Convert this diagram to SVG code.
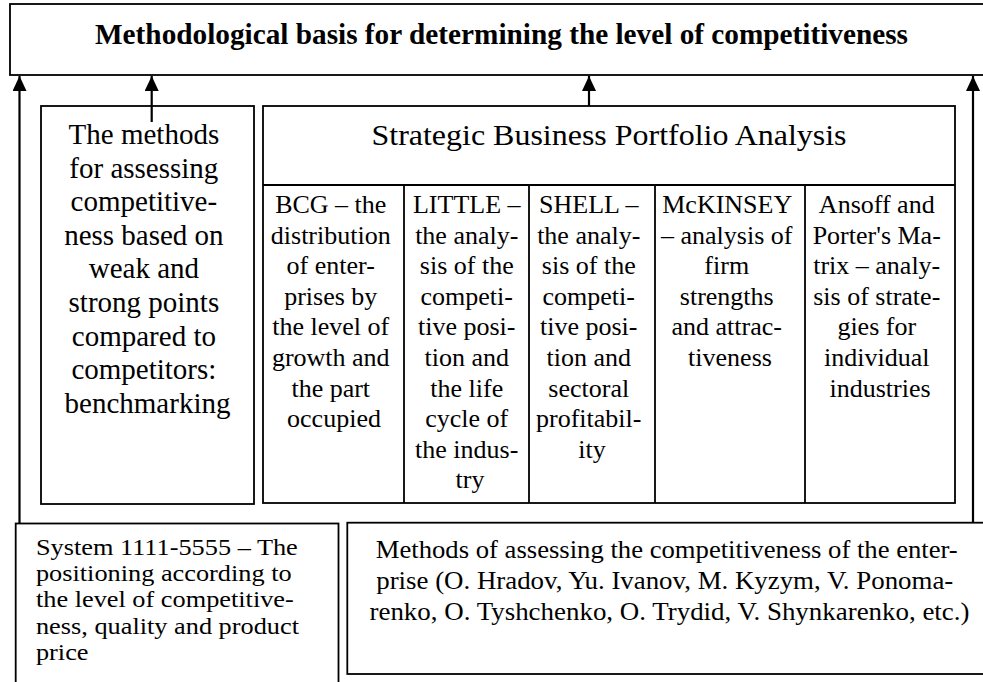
<svg xmlns="http://www.w3.org/2000/svg" width="983" height="682" viewBox="0 0 983 682">
<style>
.box{fill:#fff;stroke:#000;stroke-width:1.8}
.ln{fill:none;stroke:#000;stroke-width:1.8}
.con{fill:none;stroke:#000;stroke-width:2.2}
.t{font-family:"Liberation Serif","Times New Roman",serif;fill:#000}
.col{font-size:26px;text-anchor:middle}
</style>
<defs>
<marker id="ah" markerUnits="userSpaceOnUse" viewBox="0 0 15 14" refX="15" refY="7" markerWidth="15" markerHeight="14" orient="auto">
<path d="M0,0 L15,7 L0,14 Z" fill="#000"/>
</marker>
</defs>
<rect width="983" height="682" fill="#fff"/>

<g id="top">
<rect class="box" x="10" y="4" width="985" height="71"/>
<text class="t" x="95" y="44.3" font-size="29" font-weight="bold" textLength="813" lengthAdjust="spacingAndGlyphs">Methodological basis for determining the level of competitiveness</text>
</g>

<g id="benchmarking">
<rect class="box" x="41" y="106" width="213" height="398"/>
<text class="t" font-size="29" text-anchor="middle">
<tspan x="147.5" y="144">The methods</tspan>
<tspan x="147.5" y="177.6">for assessing</tspan>
<tspan x="147.5" y="211.2">competitive-</tspan>
<tspan x="147.5" y="244.8">ness based on</tspan>
<tspan x="147.5" y="278.4">weak and</tspan>
<tspan x="147.5" y="312">strong points</tspan>
<tspan x="147.5" y="345.6">compared to</tspan>
<tspan x="147.5" y="379.2">competitors:</tspan>
<tspan x="147.5" y="412.8">benchmarking</tspan>
</text>
</g>

<g id="portfolio">
<rect class="box" x="263" y="106" width="692" height="397"/>
<line class="ln" x1="263" y1="185" x2="955" y2="185"/>
<line class="ln" x1="404" y1="185" x2="404" y2="503"/>
<line class="ln" x1="529" y1="185" x2="529" y2="503"/>
<line class="ln" x1="655" y1="185" x2="655" y2="503"/>
<line class="ln" x1="805" y1="185" x2="805" y2="503"/>
<text class="t" x="609" y="145" font-size="30" text-anchor="middle" textLength="475" lengthAdjust="spacingAndGlyphs">Strategic Business Portfolio Analysis</text>
</g>

<g id="bcg">
<text class="t col">
<tspan x="334" y="213">BCG – the</tspan>
<tspan x="334" y="243.6">distribution</tspan>
<tspan x="334" y="274.2">of enter-</tspan>
<tspan x="334" y="304.8">prises by</tspan>
<tspan x="334" y="335.4">the level of</tspan>
<tspan x="334" y="366">growth and</tspan>
<tspan x="334" y="396.6">the part</tspan>
<tspan x="334" y="427.2">occupied</tspan>
</text>
</g>

<g id="little">
<text class="t col">
<tspan x="470" y="213">LITTLE –</tspan>
<tspan x="470" y="243.6">the analy-</tspan>
<tspan x="470" y="274.2">sis of the</tspan>
<tspan x="470" y="304.8">competi-</tspan>
<tspan x="470" y="335.4">tive posi-</tspan>
<tspan x="470" y="366">tion and</tspan>
<tspan x="470" y="396.6">the life</tspan>
<tspan x="470" y="427.2">cycle of</tspan>
<tspan x="470" y="457.8">the indus-</tspan>
<tspan x="470" y="488.4">try</tspan>
</text>
</g>

<g id="shell">
<text class="t col">
<tspan x="592" y="213">SHELL –</tspan>
<tspan x="592" y="243.6">the analy-</tspan>
<tspan x="592" y="274.2">sis of the</tspan>
<tspan x="592" y="304.8">competi-</tspan>
<tspan x="592" y="335.4">tive posi-</tspan>
<tspan x="592" y="366">tion and</tspan>
<tspan x="592" y="396.6">sectoral</tspan>
<tspan x="592" y="427.2">profitabil-</tspan>
<tspan x="592" y="457.8">ity</tspan>
</text>
</g>

<g id="mckinsey">
<text class="t col">
<tspan x="730" y="213">McKINSEY</tspan>
<tspan x="730" y="243.6">– analysis of</tspan>
<tspan x="730" y="274.2">firm</tspan>
<tspan x="730" y="304.8">strengths</tspan>
<tspan x="730" y="335.4">and attrac-</tspan>
<tspan x="730" y="366">tiveness</tspan>
</text>
</g>

<g id="ansoff">
<text class="t col">
<tspan x="880" y="213">Ansoff and</tspan>
<tspan x="880" y="243.6">Porter's Ma-</tspan>
<tspan x="880" y="274.2">trix – analy-</tspan>
<tspan x="880" y="304.8">sis of strate-</tspan>
<tspan x="880" y="335.4">gies for</tspan>
<tspan x="880" y="366">individual</tspan>
<tspan x="880" y="396.6">industries</tspan>
</text>
</g>

<g id="system">
<rect class="box" x="15.7" y="523.5" width="322.8" height="170"/>
<text class="t" font-size="23.5" transform="scale(1.12,1)">
<tspan x="32.1" y="555">System 1111-5555 – The</tspan>
<tspan x="32.1" y="581.2">positioning according to</tspan>
<tspan x="32.1" y="607.4">the level of competitive-</tspan>
<tspan x="32.1" y="633.6">ness, quality and product</tspan>
<tspan x="32.1" y="659.8">price</tspan>
</text>
</g>

<g id="authors">
<rect class="box" x="347.3" y="522.7" width="650" height="151.3"/>
<text class="t" font-size="26" text-anchor="middle">
<tspan x="670" y="558.3" textLength="582" lengthAdjust="spacingAndGlyphs">Methods of assessing the competitiveness of the enter-</tspan>
<tspan x="668" y="589.3" textLength="577" lengthAdjust="spacingAndGlyphs">prise (O. Hradov, Yu. Ivanov, M. Kyzym, V. Ponoma-</tspan>
<tspan x="669.5" y="620" textLength="600" lengthAdjust="spacingAndGlyphs">renko, O. Tyshchenko, O. Trydid, V. Shynkarenko, etc.)</tspan>
</text>
</g>

<g id="connectors">
<line class="con" x1="19.5" y1="523.5" x2="19.5" y2="76" marker-end="url(#ah)"/>
<line class="con" x1="151.7" y1="122" x2="151.7" y2="76" marker-end="url(#ah)"/>
<line class="con" x1="589" y1="106" x2="589" y2="76" marker-end="url(#ah)"/>
<line class="con" x1="973" y1="523" x2="973" y2="76" marker-end="url(#ah)"/>
</g>
</svg>
